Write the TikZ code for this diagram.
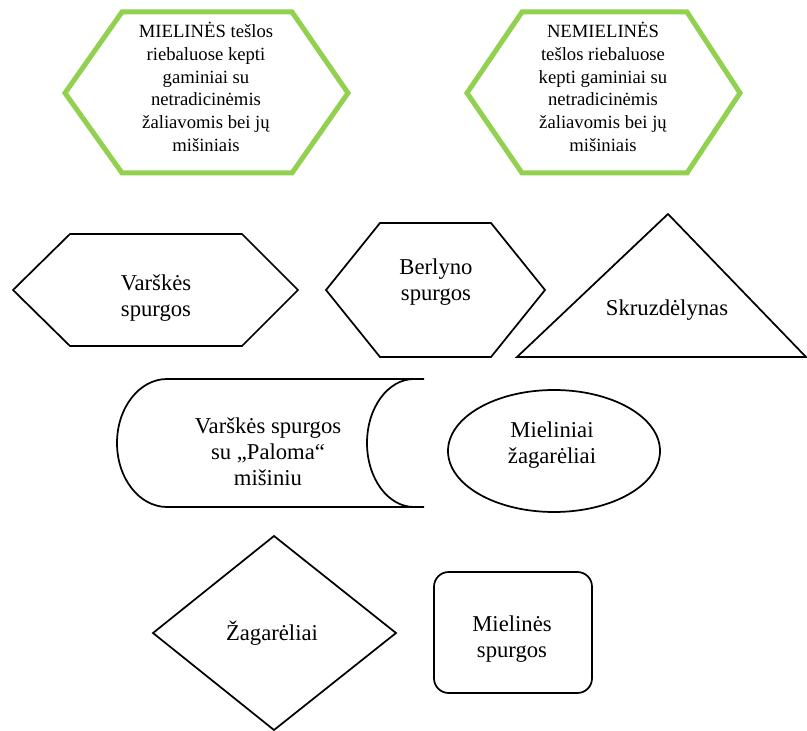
\documentclass[tikz,border=0pt]{standalone}
\usepackage{fontspec}
\setmainfont{Liberation Serif}
\definecolor{leafgreen}{RGB}{146,208,80}
\begin{document}
\begin{tikzpicture}[x=0.75pt,y=-0.75pt,
  greenline/.style={draw=leafgreen, line width=3.75pt, line join=miter},
  blackline/.style={draw=black, line width=1.3pt, line join=miter},
  headlabel/.style={align=center, inner sep=0pt, font=\fontsize{14}{17}\selectfont},
  label/.style={align=center, inner sep=0pt, font=\fontsize{17}{19.5}\selectfont}]
\fill[white] (0,0) rectangle (807,731);
\useasboundingbox (0,0) rectangle (807,731);

% two group headers (green hexagons)
\draw[greenline] (65,93) -- (122,12) -- (292,12) -- (348,93) -- (292,173) -- (122,173) -- cycle;
\draw[greenline] (467,93) -- (522,12) -- (687,12) -- (740,93) -- (687,173) -- (522,173) -- cycle;

% hexagons
\draw[blackline] (13,290) -- (70,234) -- (242,234) -- (298,290) -- (242,346) -- (70,346) -- cycle;
\draw[blackline] (326,290) -- (380,223) -- (491,223) -- (545,290) -- (491,357) -- (380,357) -- cycle;

% triangle
\draw[blackline] (517,357) -- (668,214) -- (806,357) -- cycle;

% scroll (stored data) shape
\draw[blackline] (424,379) -- (167,379) arc[start angle=90, end angle=270, x radius=37.5pt, y radius=48pt] -- (424,507);
\draw[blackline] (414,379) arc[start angle=90, end angle=270, x radius=35.25pt, y radius=48pt];

% ellipse
\draw[blackline] (554,451) ellipse[x radius=79.5pt, y radius=45.75pt];

% diamond
\draw[blackline] (274,536) -- (396,633) -- (274,730) -- (153,633) -- cycle;

% rounded rectangle
\draw[blackline, rounded corners=11pt] (434,572) rectangle (592,693);

% texts
\node[headlabel] (mielines) at (206,87) {MIELINĖS tešlos\\riebaluose kepti\\gaminiai su\\netradicinėmis\\žaliavomis bei jų\\mišiniais};
\node[headlabel] (nemielines) at (603,87) {NEMIELINĖS\\tešlos riebaluose\\kepti gaminiai su\\netradicinėmis\\žaliavomis bei jų\\mišiniais};
\node[label] (varskes) at (156,298) {Varškės\\spurgos};
\node[label] (berlyno) at (436,282) {Berlyno\\spurgos};
\node[label] (skruzd) at (667,310) {Skruzdėlynas};
\node[label] (paloma) at (268,452) {Varškės spurgos\\su „Paloma“\\mišiniu};
\node[label] (mzagareliai) at (552,445) {Mieliniai\\žagarėliai};
\node[label] (zagareliai) at (272,633) {Žagarėliai};
\node[label] (mspurgos) at (512,639) {Mielinės\\spurgos};
\end{tikzpicture}
\end{document}
